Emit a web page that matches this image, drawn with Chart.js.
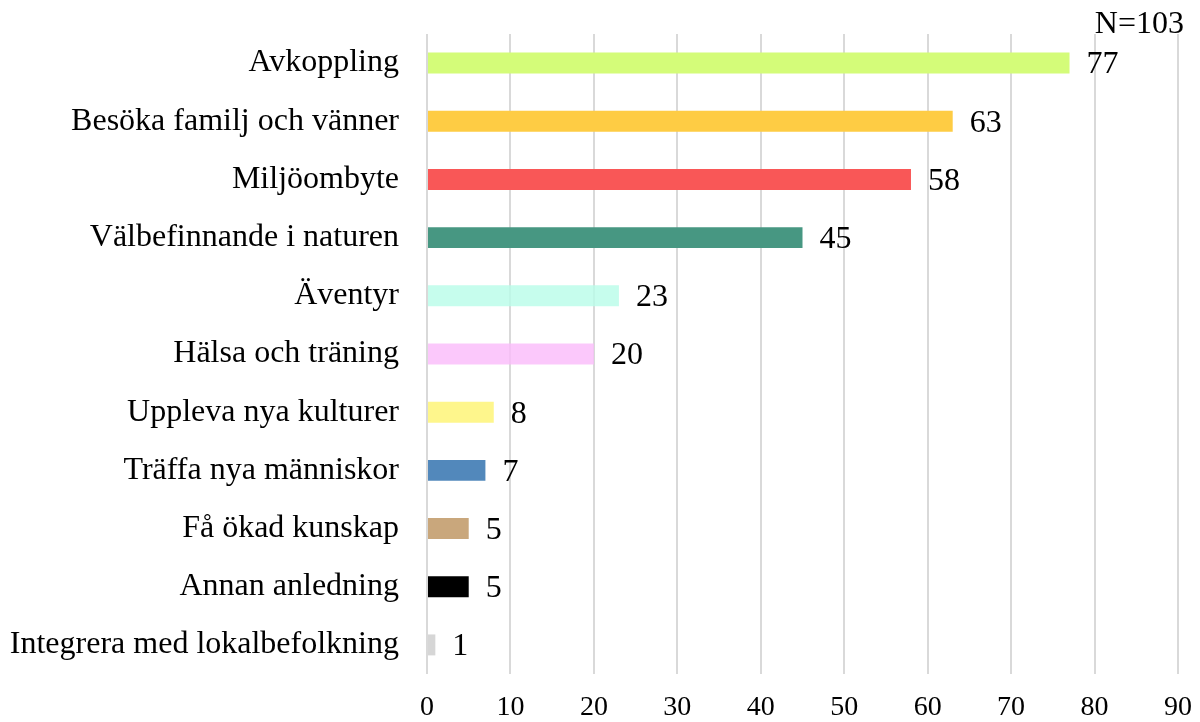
<!DOCTYPE html>
<html>
<head>
<meta charset="utf-8">
<script src="https://cdn.jsdelivr.net/npm/chart.js@4"></script>
<style>
  html, body { margin: 0; padding: 0; background: #fff; }
  #wrap { width: 1200px; height: 722px; position: relative; }
</style>
</head>
<body>
<div id="wrap"><canvas id="chart"></canvas></div>
<script>
// chart data
const categories = [
  'Avkoppling',
  'Besöka familj och vänner',
  'Miljöombyte',
  'Välbefinnande i naturen',
  'Äventyr',
  'Hälsa och träning',
  'Uppleva nya kulturer',
  'Träffa nya människor',
  'Få ökad kunskap',
  'Annan anledning',
  'Integrera med lokalbefolkning'
];
const answers = [77, 63, 58, 45, 23, 20, 8, 7, 5, 5, 1];
const barColors = [
  '#d4fc79', '#fecc44', '#f95757', '#479782',
  'rgba(184,252,232,0.8)', 'rgba(250,186,250,0.8)',
  '#fef68c', '#5288bb', '#c9a77c', '#000000', '#d6d6d6'
];
const xTicks = [0, 10, 20, 30, 40, 50, 60, 70, 80, 90];
const noteText = 'N=103';

const serif = '"Liberation Serif", "Times New Roman", serif';

// writes the value next to each bar and the N= note
const valueLabels = {
  id: 'valueLabels',
  afterDatasetsDraw(chart) {
    const ctx = chart.ctx;
    const meta = chart.getDatasetMeta(0);
    ctx.save();
    ctx.fillStyle = '#000';
    ctx.font = '32px ' + serif;
    ctx.textAlign = 'left';
    ctx.textBaseline = 'middle';
    meta.data.forEach((bar, i) => {
      ctx.fillText(String(answers[i]), bar.x + 17, bar.y + 2);
    });
    ctx.textAlign = 'right';
    ctx.textBaseline = 'alphabetic';
    ctx.fillText(noteText, 1184, 33);
    ctx.restore();
  }
};

const ctx = document.getElementById('chart').getContext('2d');
new Chart(ctx, {
  type: 'bar',
  data: {
    labels: categories,
    datasets: [{
      data: answers,
      backgroundColor: barColors,
      borderWidth: 0,
      barPercentage: 0.36,
      categoryPercentage: 1
    }]
  },
  options: {
    indexAxis: 'y',
    responsive: true,
    maintainAspectRatio: false,
    animation: false,
    layout: { padding: { top: 34, right: 22, left: 0, bottom: 0 } },
    plugins: {
      legend: { display: false },
      tooltip: { enabled: false }
    },
    scales: {
      x: {
        min: 0,
        max: 90,
        afterBuildTicks(scale) {
          scale.ticks = xTicks.map(v => ({ value: v }));
        },
        afterFit(scale) {
          scale.height = 722 - 674;
          scale.paddingLeft = 0;
          scale.paddingRight = 0;
        },
        grid: { color: '#d9d9d9', lineWidth: 2, drawTicks: false },
        border: { display: false },
        ticks: {
          color: '#000',
          padding: 17,
          font: { family: serif, size: 28 }
        }
      },
      y: {
        afterFit(scale) {
          scale.width = 427;
          scale.paddingTop = 0;
          scale.paddingBottom = 0;
        },
        grid: { display: false, drawTicks: false },
        border: { display: false },
        ticks: {
          color: '#000',
          padding: 28,
          font: { family: serif, size: 32 }
        }
      }
    }
  },
  plugins: [valueLabels]
});
</script>
</body>
</html>
